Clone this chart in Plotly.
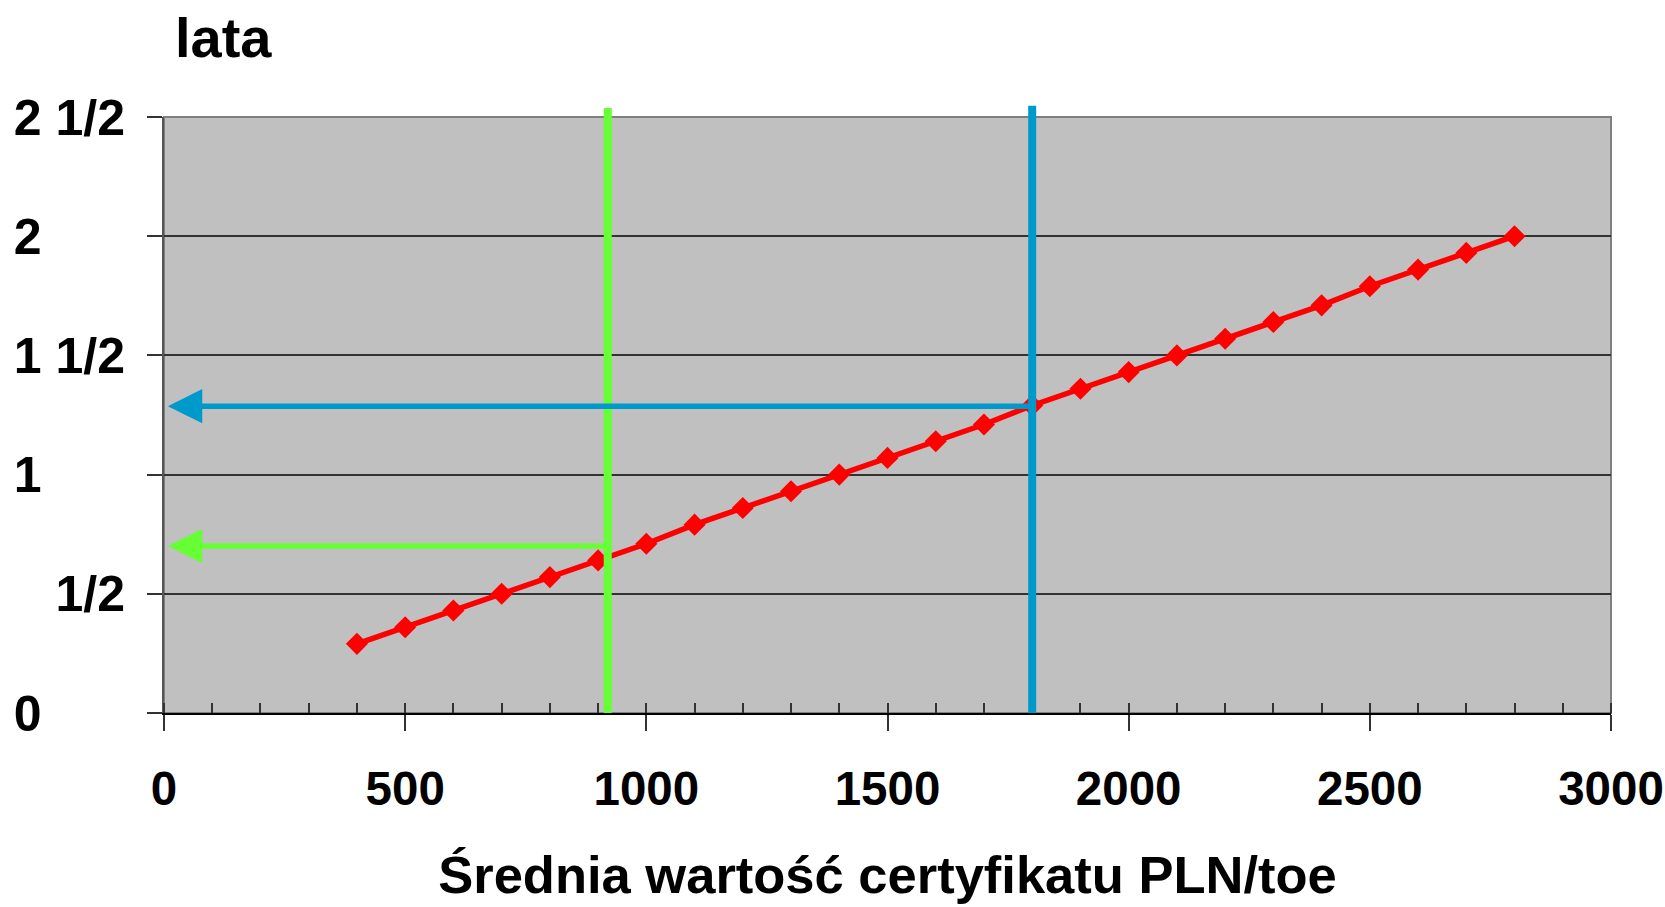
import plotly.graph_objects as go

# ---- data ----
cert_value = [400, 500, 600, 700, 800, 900, 1000, 1100, 1200, 1300, 1400, 1500, 1600,
              1700, 1800, 1900, 2000, 2100, 2200, 2300, 2400, 2500, 2600, 2700, 2800]
years = [0.29, 0.36, 0.43, 0.50, 0.57, 0.64, 0.71, 0.79, 0.86, 0.93, 1.00, 1.07, 1.14,
         1.21, 1.29, 1.36, 1.43, 1.50, 1.57, 1.64, 1.71, 1.79, 1.86, 1.93, 2.00]

marker_x = [920, 1800]          # vertical reference lines (green, blue)
marker_y = [0.70, 1.287]        # horizontal arrows read-off level
arrow_tip_x = [8, 8]
marker_colors = ["#66FF33", "#0099CC"]

y_tickvals = [0, 0.5, 1, 1.5, 2, 2.5]
y_ticktext = ["0" + "\u00a0" * 6, "1/2", "1" + "\u00a0" * 6, "1 1/2", "2" + "\u00a0" * 6, "2 1/2"]
x_tickvals = [0, 500, 1000, 1500, 2000, 2500, 3000]
x_ticktext = ["0", "500", "1000", "1500", "2000", "2500", "3000"]

FONT = "Liberation Sans, Arial, sans-serif"

fig = go.Figure()
fig.add_trace(go.Scatter(
    x=cert_value, y=years, mode="lines+markers",
    line=dict(color="#FF0000", width=5.5),
    marker=dict(symbol="diamond", size=17, color="#FF0000"),
    showlegend=False, hoverinfo="x+y",
))

shapes = [
    dict(type="rect", xref="paper", yref="paper", x0=0, x1=1, y0=0, y1=1,
         line=dict(color="#808080", width=2), fillcolor="rgba(0,0,0,0)", layer="between"),
]
tops = [1.015, 1.019]
for xv, col, top in zip(marker_x, marker_colors, tops):
    shapes.append(dict(type="line", xref="x", yref="paper", x0=xv, x1=xv, y0=0, y1=top,
                       line=dict(color=col, width=8), layer="above"))

annotations = [
    dict(text="lata", xref="paper", yref="paper", x=0.006, y=1.133,
         xanchor="left", yanchor="middle", showarrow=False,
         font=dict(family=FONT, size=56, color="black", weight=700)),
]
for xv, yv, tip, col in zip(marker_x, marker_y, arrow_tip_x, marker_colors):
    annotations.append(dict(
        x=tip, y=yv, ax=xv, ay=yv, xref="x", yref="y", axref="x", ayref="y",
        text="", showarrow=True, arrowhead=2, arrowsize=1.25, arrowwidth=5.5,
        arrowcolor=col, standoff=0,
    ))

fig.update_layout(
    width=1665, height=907,
    margin=dict(l=164, r=54, t=117, b=194, pad=0),
    paper_bgcolor="white", plot_bgcolor="#C0C0C0",
    shapes=shapes, annotations=annotations,
    font=dict(family=FONT, color="black"),
    xaxis=dict(
        range=[0, 3000], tickvals=x_tickvals, ticktext=x_ticktext, automargin=False,
        ticks="outside", ticklen=16, tickwidth=1.5, tickcolor="#333333",
        minor=dict(dtick=100, ticks="inside", ticklen=10, tickwidth=1.5, tickcolor="#333333", showgrid=False),
        showgrid=False, zeroline=False, showline=True, linecolor="black", linewidth=2,
        tickfont=dict(family=FONT, size=47.5, color="black", weight=700),
        ticklabelstandoff=17, ticklabeloverflow="allow",
        title=dict(text="Średnia wartość certyfikatu PLN/toe", standoff=42,
                   font=dict(family=FONT, size=52.5, color="black", weight=700)),
    ),
    yaxis=dict(
        range=[0, 2.5], tickvals=y_tickvals, ticktext=y_ticktext, automargin=False,
        ticks="outside", ticklen=15, tickwidth=1.5, tickcolor="#333333",
        showgrid=True, gridcolor="#333333", gridwidth=1.5,
        zeroline=False, showline=True, linecolor="#555555", linewidth=2,
        tickfont=dict(family=FONT, size=50, color="black", weight=700),
        ticklabelstandoff=12,
    ),
)

fig.write_html("out.html", config={"displayModeBar": False},
               post_script="document.body.style.margin='0';")
